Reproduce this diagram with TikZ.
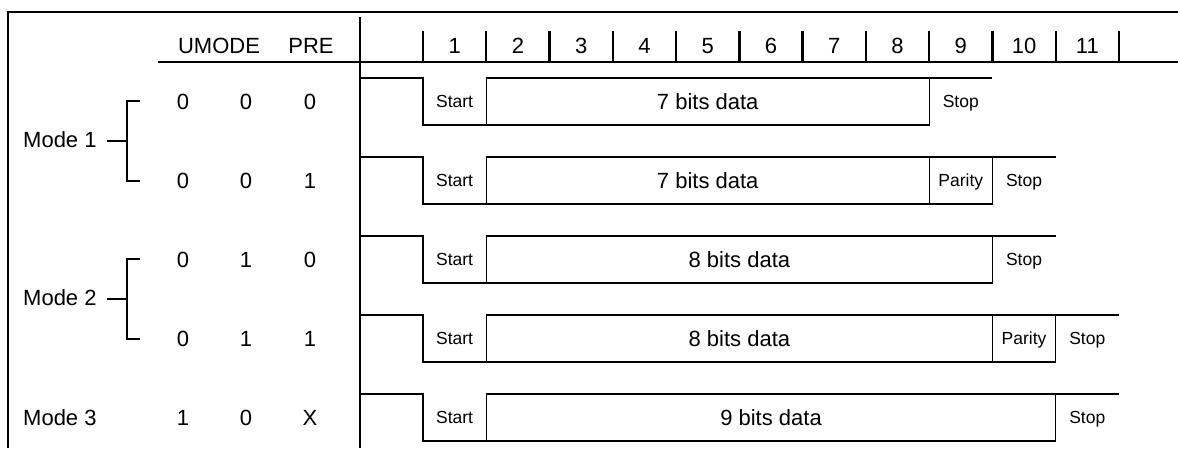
\documentclass[tikz,border=0pt]{standalone}
\usepackage{fontspec}
\setmainfont{Liberation Sans}
\begin{document}
\begin{tikzpicture}[x=1pt,y=-1pt,
  big/.style={font=\fontsize{22}{24}\selectfont, anchor=base, inner sep=0pt},
  small/.style={font=\fontsize{17.5}{20}\selectfont, anchor=base, inner sep=0pt},
  wave/.style={line width=1.3pt},
  framel/.style={line width=2pt},
  heavy/.style={line width=2.3pt}]
\useasboundingbox (0,0) rectangle (1178,448);
% frame and grid
\draw[framel] (8,448) -- (8,12) -- (1178,12);
\draw[heavy] (360,17) -- (360,448);
\draw[heavy] (158,62) -- (1178,62);
\foreach \k in {0,...,11} \draw[heavy] ({423+63.27*\k},31) -- ({423+63.27*\k},62);
\foreach \k in {1,...,11} \node[big] (h\k) at ({423+63.27*(\k-0.5)},53) {\k};
\node[big] (umode) at (219,53.5) {UMODE};
\node[big] (pre) at (311,53.5) {PRE};
% left table
\node[big] (a1) at (183,109.2) {0}; \node[big] (b1) at (246,109.2) {0}; \node[big] (c1) at (310,109.2) {0};
\node[big] (a2) at (183,188.2) {0}; \node[big] (b2) at (246,188.2) {0}; \node[big] (c2) at (310,188.2) {1};
\node[big] (a3) at (183,267.2) {0}; \node[big] (b3) at (246,267.2) {1}; \node[big] (c3) at (310,267.2) {0};
\node[big] (a4) at (183,346.2) {0}; \node[big] (b4) at (246,346.2) {1}; \node[big] (c4) at (310,346.2) {1};
\node[big] (a5) at (183,425.2) {1}; \node[big] (b5) at (246,425.2) {0}; \node[big] (c5) at (310,425.2) {X};
\node[big,anchor=base west] (m1) at (23,147.5) {Mode 1};
\node[big,anchor=base west] (m2) at (23,305.5) {Mode 2};
\node[big,anchor=base west] (m3) at (23,425.2) {Mode 3};
% brackets
\draw[wave] (140,101) -- (127,101) -- (127,181) -- (140,181);
\draw[wave] (107,141) -- (127,141);
\draw[wave] (140,259) -- (127,259) -- (127,339) -- (140,339);
\draw[wave] (107,299) -- (127,299);
% row 1
\draw[wave] (360,78) -| (423,125) -| (929.2,78);
\draw[wave] (486.3,125) |- (992.4,78);
\node[small] (s1) at (454.6,107.6) {Start};
\node[big] (d1) at (707.7,109.2) {7 bits data};
\node[small] (p1) at (960.8,107.6) {Stop};
% row 2
\draw[wave] (360,157) -| (423,204) -| (992.4,157);
\draw[wave] (486.3,204) |- (1055.7,157);
\draw[wave] (929.2,204) -- (929.2,157);
\node[small] (s2) at (454.6,186.6) {Start};
\node[big] (d2) at (707.7,188.2) {7 bits data};
\node[small] (q2) at (960.8,186.6) {Parity};
\node[small] (p2) at (1024,186.6) {Stop};
% row 3
\draw[wave] (360,236) -| (423,283) -| (992.4,236);
\draw[wave] (486.3,283) |- (1055.7,236);
\node[small] (s3) at (454.6,265.6) {Start};
\node[big] (d3) at (739.4,267.2) {8 bits data};
\node[small] (p3) at (1024,265.6) {Stop};
% row 4
\draw[wave] (360,315) -| (423,362) -| (1055.7,315);
\draw[wave] (486.3,362) |- (1119,315);
\draw[wave] (992.4,362) -- (992.4,315);
\node[small] (s4) at (454.6,344.6) {Start};
\node[big] (d4) at (739.4,346.2) {8 bits data};
\node[small] (q4) at (1024,344.6) {Parity};
\node[small] (p4) at (1087.3,344.6) {Stop};
% row 5
\draw[wave] (360,394) -| (423,441) -| (1055.7,394);
\draw[wave] (486.3,441) |- (1119,394);
\node[small] (s5) at (454.6,423.6) {Start};
\node[big] (d5) at (771,425.2) {9 bits data};
\node[small] (p5) at (1087.3,423.6) {Stop};
\end{tikzpicture}
\end{document}
